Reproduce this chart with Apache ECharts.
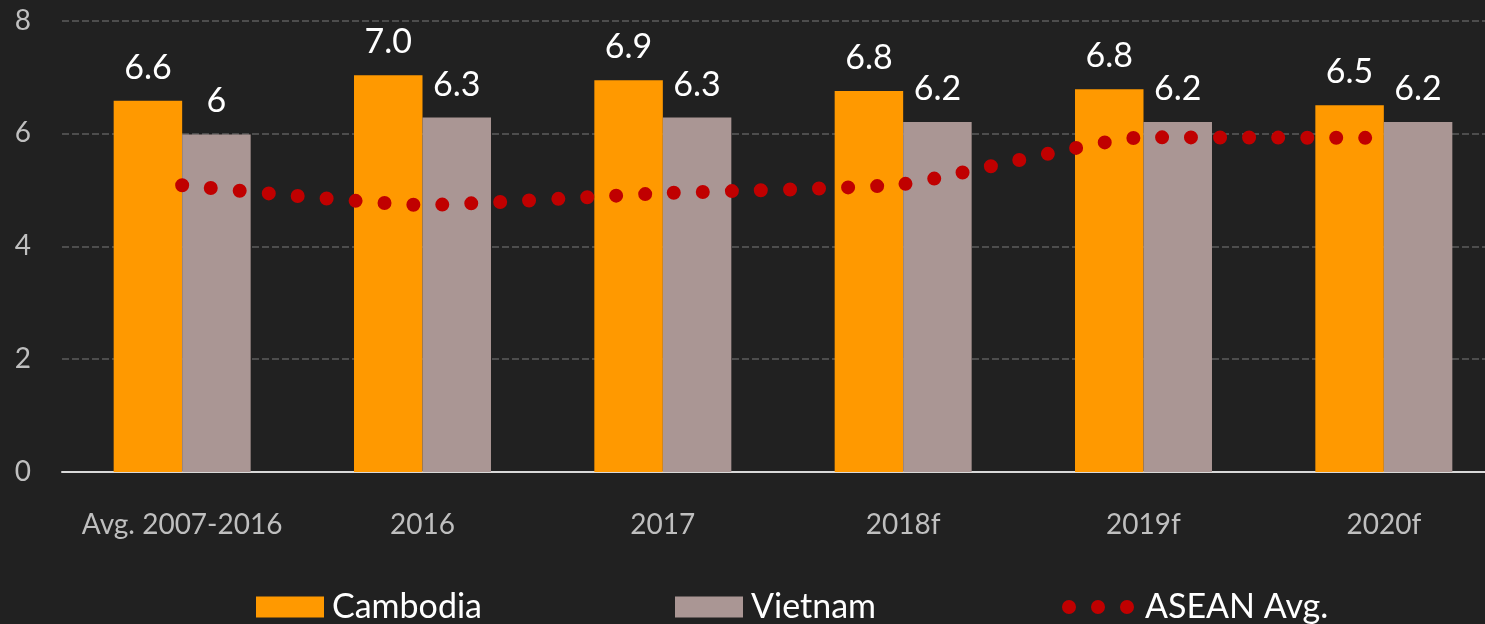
<!DOCTYPE html>
<html>
<head>
<meta charset="utf-8">
<title>Real GDP growth</title>
<script src="https://cdn.jsdelivr.net/npm/echarts@6/dist/echarts.min.js"></script>
<style>
    html, body { margin: 0; padding: 0; background: #212121; }
    #chart-container { width: 1485px; height: 624px; }
</style>
</head>
<body>
<div id="chart-container"></div>
<script>
(function(window, echarts){
    'use strict';

    var categories = ['Avg. 2007-2016', '2016', '2017', '2018f', '2019f', '2020f'];

    // bar heights as drawn, labels as printed
    var cambodia = [6.58, 7.03, 6.94, 6.75, 6.78, 6.5];
    var cambodia_labels = ['6.6', '7.0', '6.9', '6.8', '6.8', '6.5'];
    var vietnam = [5.98, 6.28, 6.28, 6.2, 6.2, 6.2];
    var vietnam_labels = ['6', '6.3', '6.3', '6.2', '6.2', '6.2'];
    var asean = [5.08, 4.73, 4.94, 5.1, 5.93, 5.92];

    var y_min = 0, y_max = 8, y_step = 2;

    var font = 'Lato';
    // three red dots for the legend
    var dots_icon = 'path://M0,7A7,7,0,1,1,14,7A7,7,0,1,1,0,7Z' +
        'M29,7A7,7,0,1,1,43,7A7,7,0,1,1,29,7Z' +
        'M58,7A7,7,0,1,1,72,7A7,7,0,1,1,58,7Z';

    var legendText = {color: '#ffffff', fontFamily: font, fontSize: 34, lineHeight: 34, padding: [0, 0, 0, 3]};

    var legendBase = function(name, left, opts) {
        var l = {
            data: [name],
            left: left,
            top: 590,
            padding: 0,
            itemWidth: 68,
            itemHeight: 21,
            icon: 'rect',
            textStyle: legendText
        };
        for (var k in opts) { l[k] = opts[k]; }
        return l;
    };

    var chart = echarts.init(document.getElementById('chart-container'));

    chart.setOption({
        backgroundColor: '#212121',
        animation: false,
        grid: {
            left: 62,
            right: -19,
            top: 20.5,
            bottom: 152,
            containLabel: false,
            outerBoundsMode: 'none'
        },
        legend: [
            legendBase('Cambodia', 256),
            legendBase('Vietnam', 675),
            legendBase('ASEAN Avg.', 1062, {
                itemWidth: 72,
                itemHeight: 14,
                icon: dots_icon,
                itemStyle: {color: '#C00000', borderWidth: 0},
                textStyle: {color: '#ffffff', fontFamily: font, fontSize: 34, lineHeight: 34, padding: [0, 0, 0, 6]}
            })
        ],
        xAxis: {
            type: 'category',
            data: categories,
            axisLine: {lineStyle: {color: '#d9d9d9', width: 2}},
            axisTick: {show: false},
            axisLabel: {color: '#bfbfbf', fontFamily: font, fontSize: 28, margin: 39, interval: 0},
            splitLine: {show: false}
        },
        yAxis: {
            type: 'value',
            min: y_min,
            max: y_max,
            interval: y_step,
            axisLine: {show: false},
            axisTick: {show: false},
            axisLabel: {color: '#bfbfbf', fontFamily: font, fontSize: 28, margin: 31},
            splitLine: {lineStyle: {color: '#4d4d4d', width: 2, type: [7, 3]}}
        },
        series: [
            {
                name: 'Cambodia',
                type: 'bar',
                data: cambodia,
                barGap: '0%',
                barCategoryGap: '43%',
                itemStyle: {color: '#FF9900'},
                label: {
                    show: true,
                    position: 'top',
                    distance: 16,
                    color: '#ffffff',
                    fontFamily: font,
                    fontSize: 34,
                    formatter: function(p) { return cambodia_labels[p.dataIndex]; }
                }
            },
            {
                name: 'Vietnam',
                type: 'bar',
                data: vietnam,
                itemStyle: {color: '#AA9694'},
                label: {
                    show: true,
                    position: 'top',
                    distance: 16,
                    color: '#ffffff',
                    fontFamily: font,
                    fontSize: 34,
                    formatter: function(p) { return vietnam_labels[p.dataIndex]; }
                }
            },
            {
                name: 'ASEAN Avg.',
                type: 'line',
                data: asean,
                smooth: 0.15,
                symbol: 'none',
                z: 5,
                itemStyle: {color: '#C00000'},
                lineStyle: {color: '#C00000', width: 14, type: [0, 29], cap: 'round'}
            }
        ]
    });

})(window, window.echarts);
</script>
</body>
</html>
